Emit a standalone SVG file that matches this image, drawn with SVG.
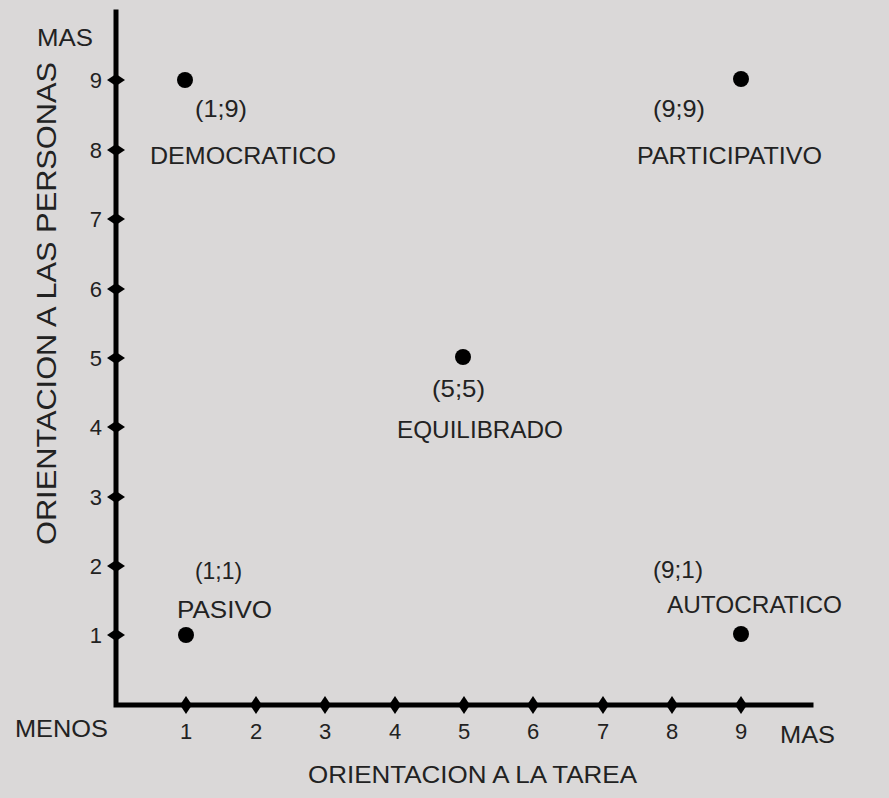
<svg xmlns="http://www.w3.org/2000/svg" width="889" height="798" viewBox="0 0 889 798">
<style>
text{font-family:"Liberation Sans",Arial,sans-serif;fill:#222;}
.lbl{font-size:24px;}
.big{font-size:27px;}
.num{font-size:22px;text-anchor:middle;}
.ynum{font-size:22px;text-anchor:end;}
.axis{stroke:#000;stroke-width:5;fill:none;stroke-linecap:square;}
.dot{fill:#000;}
.tk{fill:#000;}
</style>
<defs>
<polygon id="tx" points="0,-9 6,0 0,9 -6,0"/>
<polygon id="ty" points="-9,0 0,-6 9,0 0,6"/>
</defs>
<rect x="0" y="0" width="889" height="798" fill="#dad8d8"/>

<g id="connectors">
<path class="axis" d="M116,12 L116,705 L811,705"/>
<g class="tk">
<use href="#ty" x="116" y="80"/>
<use href="#ty" x="116" y="150"/>
<use href="#ty" x="116" y="219"/>
<use href="#ty" x="116" y="289"/>
<use href="#ty" x="116" y="358"/>
<use href="#ty" x="116" y="427"/>
<use href="#ty" x="116" y="497"/>
<use href="#ty" x="116" y="566"/>
<use href="#ty" x="116" y="635"/>
<use href="#tx" x="186" y="705"/>
<use href="#tx" x="256" y="705"/>
<use href="#tx" x="325" y="705"/>
<use href="#tx" x="395" y="705"/>
<use href="#tx" x="464" y="705"/>
<use href="#tx" x="533" y="705"/>
<use href="#tx" x="603" y="705"/>
<use href="#tx" x="672" y="705"/>
<use href="#tx" x="741" y="705"/>
</g>
</g>

<g id="axis-labels">
<text class="lbl" x="37" y="46" textLength="56" lengthAdjust="spacingAndGlyphs">MAS</text>
<text class="lbl" x="15" y="737" textLength="93" lengthAdjust="spacingAndGlyphs">MENOS</text>
<text class="lbl" x="780" y="743" textLength="55" lengthAdjust="spacingAndGlyphs">MAS</text>
<text class="lbl" x="308" y="783" textLength="329" lengthAdjust="spacingAndGlyphs">ORIENTACION A LA TAREA</text>
<text class="big" transform="translate(56,545) rotate(-90)" x="0" y="0" textLength="483" lengthAdjust="spacingAndGlyphs">ORIENTACION A LAS PERSONAS</text>
<g>
<text class="ynum" x="102" y="88">9</text>
<text class="ynum" x="102" y="158">8</text>
<text class="ynum" x="102" y="227">7</text>
<text class="ynum" x="102" y="297">6</text>
<text class="ynum" x="102" y="366">5</text>
<text class="ynum" x="102" y="435">4</text>
<text class="ynum" x="102" y="505">3</text>
<text class="ynum" x="102" y="574">2</text>
<text class="ynum" x="102" y="643">1</text>
</g>
<g>
<text class="num" x="186" y="739">1</text>
<text class="num" x="256" y="739">2</text>
<text class="num" x="325" y="739">3</text>
<text class="num" x="395" y="739">4</text>
<text class="num" x="464" y="739">5</text>
<text class="num" x="533" y="739">6</text>
<text class="num" x="603" y="739">7</text>
<text class="num" x="672" y="739">8</text>
<text class="num" x="741" y="739">9</text>
</g>
</g>

<g id="democratico">
<circle class="dot" cx="185" cy="80" r="8"/>
<text class="lbl" x="195" y="117" textLength="52" lengthAdjust="spacingAndGlyphs">(1;9)</text>
<text class="lbl" x="150" y="164" textLength="186" lengthAdjust="spacingAndGlyphs">DEMOCRATICO</text>
</g>
<g id="participativo">
<circle class="dot" cx="741" cy="79" r="8"/>
<text class="lbl" x="653" y="117" textLength="52" lengthAdjust="spacingAndGlyphs">(9;9)</text>
<text class="lbl" x="637" y="164" textLength="185" lengthAdjust="spacingAndGlyphs">PARTICIPATIVO</text>
</g>
<g id="equilibrado">
<circle class="dot" cx="463" cy="357" r="8"/>
<text class="lbl" x="432" y="397" textLength="53" lengthAdjust="spacingAndGlyphs">(5;5)</text>
<text class="lbl" x="397" y="438" textLength="166" lengthAdjust="spacingAndGlyphs">EQUILIBRADO</text>
</g>
<g id="pasivo">
<circle class="dot" cx="186" cy="635" r="8"/>
<text class="lbl" x="195" y="579" textLength="47" lengthAdjust="spacingAndGlyphs">(1;1)</text>
<text class="lbl" x="177" y="618" textLength="95" lengthAdjust="spacingAndGlyphs">PASIVO</text>
</g>
<g id="autocratico">
<circle class="dot" cx="741" cy="634" r="8"/>
<text class="lbl" x="653" y="578" textLength="50" lengthAdjust="spacingAndGlyphs">(9;1)</text>
<text class="lbl" x="667" y="613" textLength="175" lengthAdjust="spacingAndGlyphs">AUTOCRATICO</text>
</g>
</svg>
